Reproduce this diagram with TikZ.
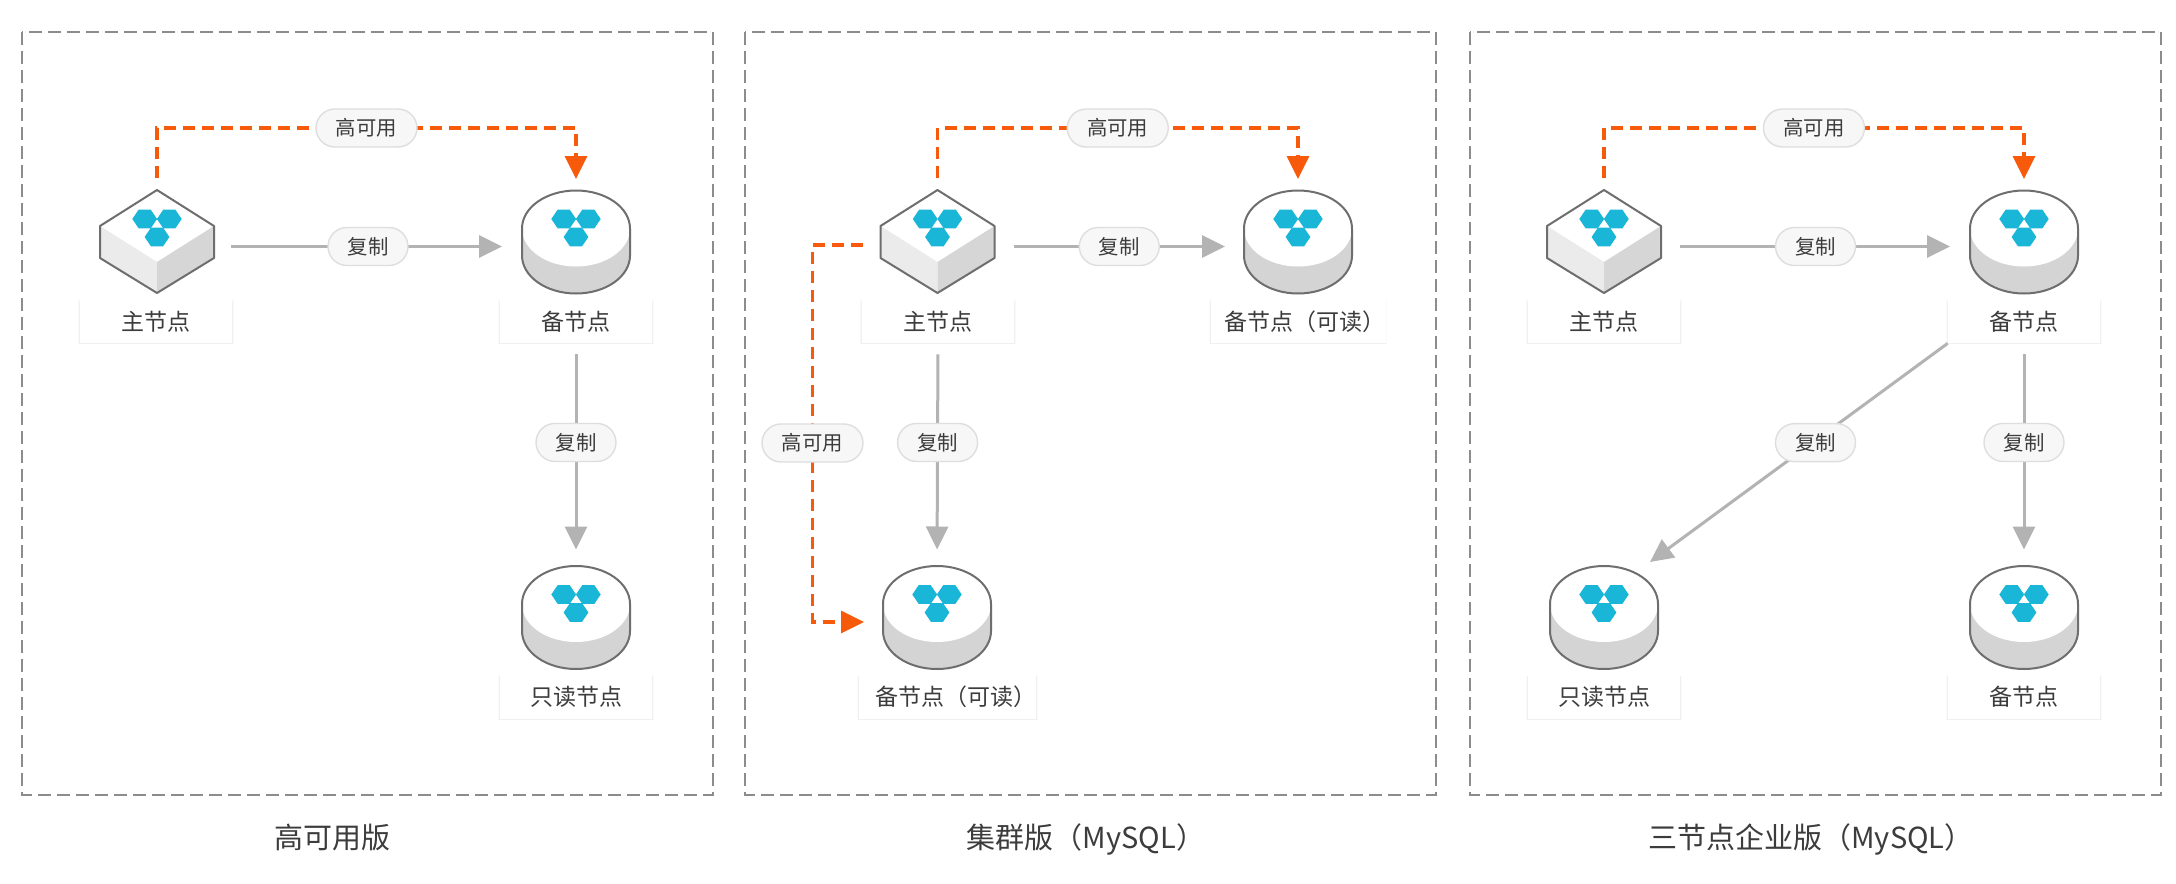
\documentclass[tikz,border=0pt]{standalone}
\usepackage{fontspec}
\setmainfont{Noto Sans CJK SC}
\usepackage{xcolor}
\usetikzlibrary{arrows.meta,shadows}
\definecolor{hexblue}{HTML}{1AB6D8}
\definecolor{haorange}{HTML}{F65A0A}
\definecolor{repgray}{HTML}{B3B3B3}
\definecolor{edgegray}{HTML}{6E6E6E}
\definecolor{framegray}{HTML}{8C8C8C}
\definecolor{txtgray}{HTML}{3C3C3C}
\tikzset{
    panelbox/.style={draw=framegray, line width=1pt, dash pattern=on 6.5pt off 3pt},
    iconbox/.style={minimum width=57pt, minimum height=51.5pt, inner sep=0pt, outer sep=0pt},
    cylbox/.style={minimum width=54pt, minimum height=51.5pt, inner sep=0pt, outer sep=0pt},
    namebox/.style={fill=white, minimum width=76pt, minimum height=21.5pt, inner sep=0pt, text=txtgray,
        font=\fontsize{11.5}{13}\selectfont,
        drop shadow={shadow xshift=0pt, shadow yshift=-0.4pt, shadow scale=1.02, fill=black, opacity=0.02},
        drop shadow={shadow xshift=0pt, shadow yshift=-0.5pt, shadow scale=1.008, fill=black, opacity=0.04}},
    pill/.style={draw=black!13, fill=black!3, line width=0.7pt, rounded corners=9.5pt, minimum height=19pt,
        inner sep=0pt, text=txtgray, font=\fontsize{10.2}{12}\selectfont, solid},
    repill/.style={pill, minimum width=40pt},
    hapill/.style={pill, minimum width=50.5pt},
    repline/.style={draw=repgray, line width=1.5pt, -{Triangle[length=11.5pt, width=11pt]}},
    haline/.style={draw=haorange, line width=1.7pt, dash pattern=on 6pt off 3.5pt, -{Triangle[length=11.5pt, width=11pt]}},
    titlenode/.style={text=txtgray, text height=11.5pt, text depth=3pt, font=\fontsize{14.5}{17}\selectfont},
    hexicon/.pic={
        \fill[hexblue] (12.4,0) -- (6,9.4) -- (-6,9.4) -- (-12.4,0) -- (-6,-9.4) -- (6,-9.4) -- cycle;
    },
    trihex/.pic={
        \pic at (-12.3,-22.5) {hexicon};
        \pic at (12.3,-22.5) {hexicon};
        \pic at (0,-4.5) {hexicon};
    },
    cubeicon/.pic={
        \fill[white] (0,-51.5) -- (57,-15.5) -- (0,20.5) -- (-57,-15.5) -- cycle;
        \fill[black!8] (-57,-15.5) -- (0,20.5) -- (0,51.5) -- (-57,16.5) -- cycle;
        \fill[black!16] (57,-15.5) -- (0,20.5) -- (0,51.5) -- (57,16.5) -- cycle;
        \draw[edgegray, line width=1pt, line join=round] (0,-51.5) -- (57,-15.5) -- (57,16.5) -- (0,51.5) -- (-57,16.5) -- (-57,-15.5) -- cycle;
        \pic {trihex};
    },
    cylicon/.pic={
        \fill[black!17] (-54,-13) arc (180:0:27pt and 19pt) -- (54,14) arc (0:-180:27pt and 19pt) -- cycle;
        \fill[white] (0,-13) ellipse (27pt and 19pt);
        \draw[edgegray, line width=1pt] (-54,-13) arc (180:0:27pt and 19pt) -- (54,14) arc (0:-180:27pt and 19pt) -- cycle;
        \pic {trihex};
    },
}
\begin{document}
\begin{tikzpicture}[x=0.5pt, y=-0.5pt]
    \useasboundingbox[fill=white] (0,0) rectangle (2176,884);

    \draw[panelbox] (22,32) rectangle (713,795);
    \draw[panelbox] (745,32) rectangle (1436,795);
    \draw[panelbox] (1470,32) rectangle (2161,795);

    \node[titlenode] (titlea) at (332,840) {高可用版};
    \node[titlenode] (titleb) at (1086,840) {集群版（MySQL）};
    \node[titlenode] (titlec) at (1811,840) {三节点企业版（MySQL）};

    \node[iconbox] (maina) at (157,241.5) {};
    \pic at (maina) {cubeicon};
    \node[namebox] (mainatxt) at (156,321.5) {主节点};
    \node[cylbox] (stbya) at (576,241.5) {};
    \pic at (stbya) {cylicon};
    \node[namebox] (stbyatxt) at (576,321.5) {备节点};
    \node[cylbox] (roa) at (576,617) {};
    \pic at (roa) {cylicon};
    \node[namebox] (roatxt) at (576,697) {只读节点};

    \draw[haline, shorten <=6pt, shorten >=5.5pt] (maina.north) -- ++(0,-62) -| node[hapill, pos=0.25] (haa) {高可用} (stbya.north);
    \draw[repline, shorten <=8.5pt, shorten >=10pt] ([yshift=-2.5pt]maina.east) -- node[repill] (repa) {复制} ([yshift=-2.5pt]stbya.west);
    \draw[repline, shorten <=5.5pt, shorten >=8pt] (stbyatxt.south) -- node[repill, pos=0.446] (repb) {复制} (roa.north);

    \node[iconbox] (mainb) at (937.5,241.5) {};
    \pic at (mainb) {cubeicon};
    \node[namebox] (mainbtxt) at (938,321.5) {主节点};
    \node[cylbox] (stbyb) at (1298,241.5) {};
    \pic at (stbyb) {cylicon};
    \node[namebox, minimum width=87pt] (stbybtxt) at (1298,321.5) {\hspace*{7pt}备节点（可读）};
    \node[cylbox] (rob) at (937,617) {};
    \pic at (rob) {cylicon};
    \node[namebox, minimum width=85.5pt] (robtxt) at (947.5,697) {\hspace*{8pt}备节点（可读）};

    \draw[haline, shorten <=6pt, shorten >=5.5pt] (mainb.north) -- ++(0,-62) -| node[hapill, pos=0.25] (hab) {高可用} (stbyb.north);
    \draw[haline, shorten <=9pt, shorten >=9.5pt] ([yshift=-1.75pt]mainb.west) -- ++(-68,0) |- node[hapill, pos=0.2626] (hac) {高可用} ([yshift=-2.5pt]rob.west);
    \draw[repline, shorten <=9.5pt, shorten >=9.5pt] ([yshift=-2.5pt]mainb.east) -- node[repill] (repc) {复制} ([yshift=-2.5pt]stbyb.west);
    \draw[repline, shorten <=5.5pt, shorten >=8pt] (mainbtxt.south) -- node[repill, pos=0.446] (repd) {复制} (rob.north);

    \node[iconbox] (mainc) at (1604,241.5) {};
    \pic at (mainc) {cubeicon};
    \node[namebox] (maincbox) at (1604,321.5) {主节点};
    \node[cylbox] (stbyc) at (2024,241.5) {};
    \pic at (stbyc) {cylicon};
    \node[namebox] (stbyctxt) at (2024,321.5) {备节点};
    \node[cylbox] (roc) at (1604,617) {};
    \pic at (roc) {cylicon};
    \node[namebox] (roctxt) at (1604,697) {只读节点};
    \node[cylbox] (stbyd) at (2024,617) {};
    \pic at (stbyd) {cylicon};
    \node[namebox] (stbydtxt) at (2024,697) {备节点};
    \coordinate (rotip) at (1650,562);

    \draw[haline, shorten <=6pt, shorten >=5.5pt] (mainc.north) -- ++(0,-62) -| node[hapill, pos=0.25] (had) {高可用} (stbyc.north);
    \draw[repline, shorten <=9.5pt, shorten >=10pt] ([yshift=-2.5pt]mainc.east) -- node[repill] (repe) {复制} ([yshift=-2.5pt]stbyc.west);
    \draw[repline, shorten <=5.5pt, shorten >=8pt] (stbyctxt.south) -- node[repill, pos=0.446] (repf) {复制} (stbyd.north);
    \draw[repline] (stbyctxt.south west) -- node[repill, pos=0.454, xshift=1.5pt] (repg) {复制} (rotip);
\end{tikzpicture}
\end{document}
